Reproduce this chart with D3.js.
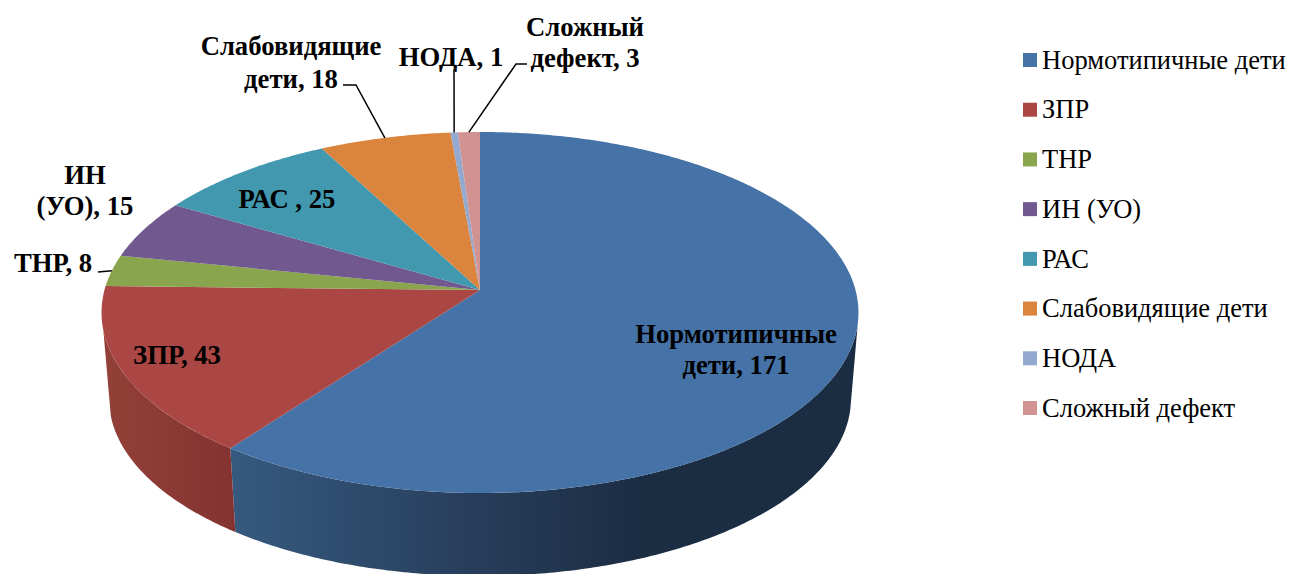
<!DOCTYPE html>
<html>
<head>
<meta charset="utf-8">
<script src="https://cdn.jsdelivr.net/npm/d3@7"></script>
<style>
  html, body { margin: 0; padding: 0; background: #fff; overflow: hidden; }
  svg { display: block; }
  text { font-family: "Liberation Serif", serif; fill: #000; }
</style>
</head>
<body>
<svg></svg>
<script>
// ------------------- data -------------------
let categories = ['Нормотипичные дети', 'ЗПР', 'ТНР', 'ИН (УО)', 'РАС', 'Слабовидящие дети', 'НОДА', 'Сложный дефект']
let values = [171, 43, 8, 15, 25, 18, 1, 3]
let colors = ['#4572a7', '#aa4643', '#89a54e', '#71588f', '#4198af', '#db843d', '#93a9cf', '#d19392']

// ------------------- layout -------------------
let width = 1291
let height = 574

// the disc is a circle seen in perspective, so its centre is above the middle of the ellipse
let cx = 480
let cy = 290
let radiusX = 375.5
let radiusY = 177.7
let persp = 0.1247
// bottom rim of the side wall
let depth = 87
let bottomScale = 0.98

let svg = d3.select('svg').attr('width', width).attr('height', height)

let defs = svg.append('defs')

let project = (angle, dy, scale) => {
  let u = Math.sin(angle)
  let v = -Math.cos(angle)
  let w = 1 - persp * v
  return [cx + radiusX * scale * u / w, cy + dy + radiusY * scale * v / w]
}
let topPoint = (angle) => project(angle, 0, 1)
let bottomPoint = (angle) => project(angle, depth, bottomScale)

let arcAngles = (a0, a1) => {
  let steps = Math.max(2, Math.ceil((a1 - a0) / 0.01))
  return d3.range(steps + 1).map((i) => a0 + (a1 - a0) * i / steps)
}

let line = d3.line()

let slices = d3.pie().sort(null).value((d) => d)(values)

let sideGradient = (id, stops, x1, x2) => {
  let g = defs.append('linearGradient')
    .attr('id', id)
    .attr('gradientUnits', 'userSpaceOnUse')
    .attr('x1', x1).attr('x2', x2)
    .attr('y1', 0).attr('y2', 0)
  stops.forEach((s) => {
    g.append('stop').attr('offset', s[0]).attr('stop-color', s[1])
  })
}

let drawSides = () => {
  sideGradient('side-0', [[0, '#36597f'], [0.63, '#263c58'], [1, '#1b2d43']], 232, 640)
  sideGradient('side-1', [[0, '#934038'], [1, '#843331']], 105, 234)

  // only the front of the wall is visible, its ends give the straight silhouette edges
  let frontStart = Math.PI * 0.556
  let frontEnd = Math.PI * 1.43

  svg.append('g').selectAll('path')
    .data(slices.filter((s) => s.endAngle > frontStart && s.startAngle < frontEnd))
    .enter()
    .append('path')
    .attr('d', (s) => {
      let angles = arcAngles(Math.max(s.startAngle, frontStart), Math.min(s.endAngle, frontEnd))
      let pts = angles.map(topPoint).concat(angles.slice().reverse().map(bottomPoint))
      return line(pts) + 'Z'
    })
    .attr('fill', (s) => 'url(#side-' + s.index + ')')
}

let drawTop = () => {
  svg.append('g').selectAll('path')
    .data(slices)
    .enter()
    .append('path')
    .attr('d', (s) => {
      return line([[cx, cy]].concat(arcAngles(s.startAngle, s.endAngle).map(topPoint))) + 'Z'
    })
    .attr('fill', (s) => colors[s.index])
}

// text of the data labels: lines, centre x, centre y of every line
let labelLayout = [
  { lines: ['Нормотипичные', 'дети, 171'], x: 736, y: [334, 365] },
  { lines: ['ЗПР, 43'], x: 177, y: [355] },
  { lines: ['ТНР, 8'], x: 53, y: [263] },
  { lines: ['ИН', '(УО), 15'], x: 85, y: [175, 206] },
  { lines: ['РАС , 25'], x: 287, y: [199] },
  { lines: ['Слабовидящие', 'дети, 18'], x: 291, y: [46, 79] },
  { lines: ['НОДА, 1'], x: 451, y: [57] },
  { lines: ['Сложный', 'дефект, 3'], x: 585, y: [27, 58] }
]

let drawLabels = () => {
  let g = svg.append('g')
  labelLayout.forEach((l) => {
    l.lines.forEach((t, i) => {
      g.append('text')
        .attr('x', l.x)
        .attr('y', l.y[i])
        .attr('dy', '0.33em')
        .attr('text-anchor', 'middle')
        .attr('font-size', 26.7)
        .attr('font-weight', 'bold')
        .text(t)
    })
  })
}

// leader lines: index of the slice and the elbow points, the last point is on the rim
let leaders = [
  { slice: 2, pts: [[98, 272]] },
  { slice: 5, pts: [[343, 85], [356, 85]] },
  { slice: 6, pts: [[454, 69]] },
  { slice: 7, pts: [[527, 64], [516, 64]] }
]

let drawLeaders = () => {
  svg.append('g').selectAll('path')
    .data(leaders)
    .enter()
    .append('path')
    .attr('d', (l) => {
      let s = slices[l.slice]
      return line(l.pts.concat([topPoint((s.startAngle + s.endAngle) / 2)]))
    })
    .attr('fill', 'none')
    .attr('stroke', '#000')
    .attr('stroke-width', 1.5)
}

let drawLegend = () => {
  let yScale = d3.scalePoint().domain(categories).range([60, 408])
  let row = svg.append('g').selectAll('g')
    .data(categories)
    .enter()
    .append('g')
    .attr('transform', (d) => 'translate(0,' + yScale(d) + ')')

  row.append('rect')
    .attr('x', 1023).attr('y', -7)
    .attr('width', 14).attr('height', 14)
    .attr('fill', (d, i) => colors[i])

  row.append('text')
    .attr('x', 1042)
    .attr('dy', '0.33em')
    .attr('font-size', 26.5)
    .text((d) => d)
}

drawSides()
drawTop()
drawLeaders()
drawLabels()
drawLegend()
</script>
</body>
</html>
